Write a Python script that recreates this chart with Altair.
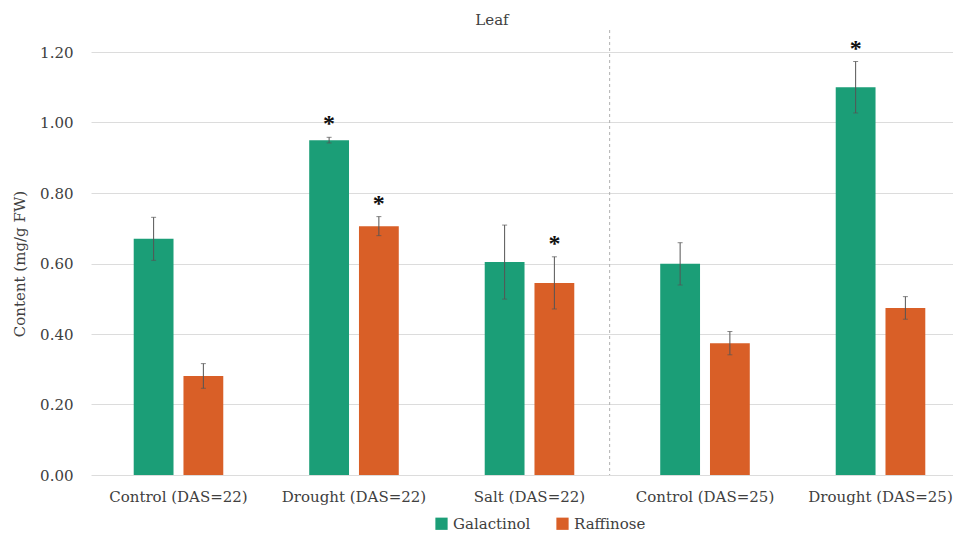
import altair as alt
import pandas as pd

categories = ["Control (DAS=22)", "Drought (DAS=22)", "Salt (DAS=22)", "Control (DAS=25)", "Drought (DAS=25)"]
series = ["Galactinol", "Raffinose"]
galactinol = [0.670, 0.950, 0.604, 0.599, 1.100]
galactinol_err = [0.061, 0.008, 0.105, 0.060, 0.073]
raffinose = [0.281, 0.706, 0.545, 0.374, 0.474]
raffinose_err = [0.035, 0.027, 0.074, 0.033, 0.032]
galactinol_sig = [False, True, False, False, True]
raffinose_sig = [False, True, True, False, False]
y_ticks = [0.0, 0.2, 0.4, 0.6, 0.8, 1.0, 1.2]
colors = ["#1b9e77", "#d95f27"]

rows = []
for s, vals, errs, sigs in [("Galactinol", galactinol, galactinol_err, galactinol_sig),
                            ("Raffinose", raffinose, raffinose_err, raffinose_sig)]:
    for c, v, e, g in zip(categories, vals, errs, sigs):
        rows.append({"category": c, "series": s, "value": v, "lo": v - e, "hi": v + e,
                     "star": "*" if g else ""})
df = pd.DataFrame(rows)

FONT = "DejaVu Serif"
FS = 15
W, H = 862, 423
RANGE = 877
PI, PO = 0.433, 0.215
step = RANGE / (len(categories) - PI + 2 * PO)
divider_x = step * (PO + 3) - step * PI * 0.6

xscale = alt.Scale(range=[0, RANGE], paddingInner=PI, paddingOuter=PO)
x = alt.X("category:N", sort=categories, scale=xscale,
          axis=alt.Axis(title=None, labelAngle=0, ticks=False, domain=False, grid=False,
                        labelPadding=14, labelFontSize=FS, labelFont=FONT, labelColor="#404040"))
xo = alt.XOffset("series:N", sort=series, scale=alt.Scale(paddingInner=0.2, paddingOuter=0.1))
yscale = alt.Scale(domain=[0, 1.2])

base = alt.Chart(df)

bars = base.mark_bar().encode(
    x=x, xOffset=xo,
    y=alt.Y("value:Q", scale=yscale,
            axis=alt.Axis(values=y_ticks, format=".2f", title="Content (mg/g FW)",
                          grid=True, gridColor="#dcdcdc", domain=False, ticks=False,
                          labelPadding=18, labelFontSize=FS, labelFont=FONT, labelColor="#404040",
                          titleFontSize=FS, titleFont=FONT, titleFontWeight="normal",
                          titleColor="#404040", titlePadding=12)),
    color=alt.Color("series:N", sort=series, scale=alt.Scale(domain=series, range=colors),
                    legend=alt.Legend(title=None, orient="none", direction="horizontal",
                                      legendX=343, legendY=464, symbolType="square",
                                      symbolSize=150, symbolStrokeWidth=0, labelFontSize=FS,
                                      labelFont=FONT, labelColor="#404040", labelOffset=4,
                                      columnPadding=24)),
)

err = base.mark_rule(color="#555555", strokeWidth=1).encode(
    x=x, xOffset=xo, y=alt.Y("lo:Q", scale=yscale), y2="hi:Q")
cap_hi = base.mark_tick(color="#555555", thickness=1, size=5).encode(
    x=x, xOffset=xo, y=alt.Y("hi:Q", scale=yscale))
cap_lo = base.mark_tick(color="#555555", thickness=1, size=5).encode(
    x=x, xOffset=xo, y=alt.Y("lo:Q", scale=yscale))
stars = base.mark_text(font="Liberation Serif", fontSize=24, fontWeight="bold", color="#111111",
                       baseline="middle", dy=-13).encode(
    x=x, xOffset=xo, y=alt.Y("hi:Q", scale=yscale), text="star:N")

divider = alt.Chart(pd.DataFrame({"d": [0]})).mark_rule(
    color="#b0b0b0", strokeDash=[3, 3], strokeWidth=1).encode(
    x=alt.value(divider_x), y=alt.value(-22), y2=alt.value(H))

chart = alt.layer(bars, err, cap_hi, cap_lo, stars, divider).properties(
    width=W, height=H,
    title=alt.TitleParams(text="Leaf", font=FONT, fontSize=FS, fontWeight="normal",
                          color="#404040", dx=-30, offset=2),
    autosize=alt.AutoSizeParams(type="none"),
    padding={"left": 83, "top": 44, "right": 0, "bottom": 59},
).configure_view(stroke=None)

chart.save("out.html", embed_options={"renderer": "svg", "actions": False})
